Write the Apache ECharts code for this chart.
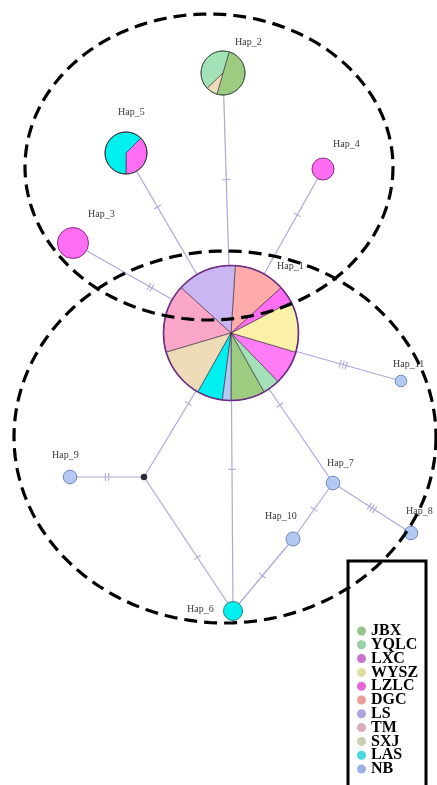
<!DOCTYPE html>
<html>
<head>
<meta charset="utf-8">
<script src="https://cdn.jsdelivr.net/npm/echarts@6/dist/echarts.min.js"></script>
<style>
  html, body { margin: 0; padding: 0; background: #fff; }
  #chart { width: 437px; height: 785px; }
</style>
</head>
<body>
<div id="chart"></div>
<script>
// ---- data ----------------------------------------------------------------
const populations = ['JBX', 'YQLC', 'LXC', 'WYSZ', 'LZLC', 'DGC', 'LS', 'TM', 'SXJ', 'LAS', 'NB'];
const haplotypes = ['Hap_1', 'Hap_2', 'Hap_3', 'Hap_4', 'Hap_5', 'Hap_6', 'Hap_7', 'Hap_8', 'Hap_9', 'Hap_10', 'Hap_11'];

// network layout coordinates of each haplotype
const hapX = [231, 223, 73, 323, 126, 233, 333, 411, 70, 293, 401];
const hapY = [333, 73, 243, 169, 153, 611, 483, 533, 477, 539, 381];

// inferred median vector
const medianX = [144];
const medianY = [477];

// individuals per population (same order as `populations`)
const hap1Counts  = [4, 2, 4, 6, 2, 6, 7, 8, 6, 3, 1];
const hap2Counts  = [6, 5, 0, 0, 0, 0, 0, 0, 1, 0, 0];
const hap3Counts  = [0, 0, 0, 0, 2, 0, 0, 0, 0, 0, 0];
const hap4Counts  = [0, 0, 0, 0, 1, 0, 0, 0, 0, 0, 0];
const hap5Counts  = [0, 0, 0, 0, 3, 0, 0, 0, 0, 5, 0];
const hap6Counts  = [0, 0, 0, 0, 0, 0, 0, 0, 0, 1, 0];
const hap7Counts  = [0, 0, 0, 0, 0, 0, 0, 0, 0, 0, 1];
const hap8Counts  = [0, 0, 0, 0, 0, 0, 0, 0, 0, 0, 1];
const hap9Counts  = [0, 0, 0, 0, 0, 0, 0, 0, 0, 0, 1];
const hap10Counts = [0, 0, 0, 0, 0, 0, 0, 0, 0, 0, 1];
const hap11Counts = [0, 0, 0, 0, 0, 0, 0, 0, 0, 0, 1];
const hapCounts = [hap1Counts, hap2Counts, hap3Counts, hap4Counts, hap5Counts, hap6Counts,
                   hap7Counts, hap8Counts, hap9Counts, hap10Counts, hap11Counts];

// network edges and number of mutational steps on each
const edgeFrom      = ['Hap_1', 'Hap_1', 'Hap_1', 'Hap_1', 'Hap_1', 'Hap_1', 'Hap_1', 'Hap_1', 'mv1',   'mv1',   'Hap_7',  'Hap_10', 'Hap_7'];
const edgeTo        = ['Hap_2', 'Hap_5', 'Hap_3', 'Hap_4', 'Hap_11','Hap_7', 'Hap_6', 'mv1',   'Hap_9', 'Hap_6', 'Hap_10', 'Hap_6',  'Hap_8'];
const edgeMutations = [1, 1, 2, 1, 3, 1, 1, 1, 2, 1, 1, 1, 3];

// ---- styling ----------------------------------------------------------------
const popColors = {
  JBX: '#9DCB80', YQLC: '#A2E2B6', LXC: '#FF7CF6', WYSZ: '#FAF0A8', LZLC: '#FF6EF2',
  DGC: '#FFABA9', LS: '#C9B6F2', TM: '#FAA6C8', SXJ: '#EEDCB8', LAS: '#00F0F0', NB: '#B3C8F2'
};
const legendColors = {
  JBX: '#85BA78', YQLC: '#86C69A', LXC: '#BE58C9', WYSZ: '#DCD68E', LZLC: '#E24CD0',
  DGC: '#E48C86', LS: '#A193D8', TM: '#D69AB8', SXJ: '#C2C4A2', LAS: '#27D2D8', NB: '#8AA3DD'
};
const nodeRadius = [67.5, 22, 15.5, 11, 21, 9.5, 6.8, 6.8, 6.8, 7, 5.8];
const nodeStroke = ['#6A2C84', '#3F5F3F', '#8A2A8A', '#8A2A8A', '#333333', '#2A8080',
                    '#6F86B8', '#6F86B8', '#6F86B8', '#6F86B8', '#6F86B8'];
const nodeStrokeWidth = [1.6, 1, 1, 1, 1, 1, 1, 1, 1, 1, 1];
// angle (deg, clockwise from 12 o'clock) where the first population's slice begins;
// slices then run counter-clockwise in population order
const nodeStartAngle = [180, 196, 180, 180, 180, 180, 180, 180, 180, 180, 180];
// label anchor (left, middle) relative to node centre
const labelDX = [46, 12, 15, 10, -8, -46, -6, -5, -18, -28, -8];
const labelDY = [-67, -31, -29, -25, -41, -2, -20, -22, -22, -23, -17];
// where along each edge the mutation hatch marks sit (0 = from node, 1 = to node)
const tickAt = [0.59, 0.70, 0.51, 0.72, 0.66, 0.48, 0.49, 0.49, 0.5, 0.6, 0.47, 0.51, 0.5];
// grouping ellipses
const ellipseCX = [209, 225];
const ellipseCY = [167, 437];
const ellipseRX = [184, 211];
const ellipseRY = [153, 186];

const EDGE_COLOR = '#ADA8DA';
const LABEL_FONT = '"Liberation Serif", "Times New Roman", serif';

function posX(name) { return name === 'mv1' ? medianX[0] : hapX[haplotypes.indexOf(name)]; }
function posY(name) { return name === 'mv1' ? medianY[0] : hapY[haplotypes.indexOf(name)]; }
const rad = d => d * Math.PI / 180;

// ---- series -------------------------------------------------------------------
const edgeSeries = {
  type: 'custom',
  name: 'edges',
  z: 1,
  silent: true,
  data: edgeFrom.map((f, i) => [posX(f), posY(f), posX(edgeTo[i]), posY(edgeTo[i]), edgeMutations[i], i]),
  encode: { x: [0, 2], y: [1, 3] },
  renderItem(params, api) {
    const p1 = api.coord([api.value(0), api.value(1)]);
    const p2 = api.coord([api.value(2), api.value(3)]);
    const k = api.value(4);
    const t = tickAt[api.value(5)];
    const dx = p2[0] - p1[0], dy = p2[1] - p1[1];
    const len = Math.hypot(dx, dy);
    const ux = dx / len, uy = dy / len;
    const nx = -uy, ny = ux;
    const cx = p1[0] + dx * t, cy = p1[1] + dy * t;
    const children = [{
      type: 'line',
      shape: { x1: p1[0], y1: p1[1], x2: p2[0], y2: p2[1] },
      style: { stroke: EDGE_COLOR, lineWidth: 1.2 }
    }];
    const half = 4, gap = 3.2;
    for (let j = 0; j < k; j++) {
      const o = (j - (k - 1) / 2) * gap;
      const mx = cx + ux * o, my = cy + uy * o;
      children.push({
        type: 'line',
        shape: { x1: mx - nx * half, y1: my - ny * half, x2: mx + nx * half, y2: my + ny * half },
        style: { stroke: EDGE_COLOR, lineWidth: 1.1 }
      });
    }
    return { type: 'group', children };
  }
};

// one series per population: draws that population's share of every haplotype
const popSeries = populations.map((pop, pIdx) => ({
  type: 'custom',
  name: pop,
  z: 2,
  itemStyle: { color: popColors[pop] },
  data: haplotypes.map((h, i) => [hapX[i], hapY[i], i]),
  encode: { x: 0, y: 1 },
  renderItem(params, api) {
    const i = api.value(2);
    const counts = hapCounts[i];
    const c = counts[pIdx];
    if (!c) return { type: 'group', children: [] };
    const total = counts.reduce((a, b) => a + b, 0);
    const before = counts.slice(0, pIdx).reduce((a, b) => a + b, 0);
    const p = api.coord([api.value(0), api.value(1)]);
    const r = api.size([nodeRadius[i], 0])[0];
    if (c === total) {
      return { type: 'circle', shape: { cx: p[0], cy: p[1], r }, style: { fill: popColors[pop] } };
    }
    const end = nodeStartAngle[i] - before / total * 360;
    const start = end - c / total * 360;
    return {
      type: 'sector',
      shape: { cx: p[0], cy: p[1], r0: 0, r, startAngle: rad(start - 90), endAngle: rad(end - 90), clockwise: true },
      style: { fill: popColors[pop], stroke: '#3C2A44', lineWidth: 0.6 }
    };
  }
}));

const outlineSeries = {
  type: 'custom',
  name: 'outline',
  z: 3,
  silent: true,
  data: haplotypes.map((h, i) => [hapX[i], hapY[i], i]),
  encode: { x: 0, y: 1 },
  renderItem(params, api) {
    const i = api.value(2);
    const p = api.coord([api.value(0), api.value(1)]);
    const r = api.size([nodeRadius[i], 0])[0];
    return {
      type: 'circle',
      shape: { cx: p[0], cy: p[1], r },
      style: { fill: 'none', stroke: nodeStroke[i], lineWidth: nodeStrokeWidth[i] }
    };
  }
};

const medianSeries = {
  type: 'scatter',
  name: 'median',
  z: 3,
  silent: true,
  symbol: 'circle',
  symbolSize: 6.5,
  itemStyle: { color: '#000' },
  data: medianX.map((x, i) => [x, medianY[i]])
};

const labelSeries = {
  type: 'custom',
  name: 'labels',
  z: 4,
  silent: true,
  data: haplotypes.map((h, i) => [hapX[i], hapY[i], i]),
  encode: { x: 0, y: 1 },
  renderItem(params, api) {
    const i = api.value(2);
    const p = api.coord([api.value(0), api.value(1)]);
    return {
      type: 'text',
      x: p[0] + labelDX[i],
      y: p[1] + labelDY[i],
      style: {
        text: haplotypes[i], fill: '#3A3A3A', fontSize: 10, fontFamily: LABEL_FONT,
        align: 'left', verticalAlign: 'middle'
      }
    };
  }
};

const ellipseSeries = {
  type: 'custom',
  name: 'groups',
  z: 6,
  silent: true,
  clip: false,
  data: ellipseCX.map((cx, i) => [cx, ellipseCY[i], ellipseRX[i], ellipseRY[i]]),
  encode: { x: 0, y: 1 },
  renderItem(params, api) {
    const cx = api.value(0), cy = api.value(1), rx = api.value(2), ry = api.value(3);
    const pts = [];
    for (let a = 0; a <= 360; a += 2) {
      pts.push(api.coord([cx + rx * Math.cos(rad(a)), cy + ry * Math.sin(rad(a))]));
    }
    return {
      type: 'polyline',
      shape: { points: pts },
      style: { fill: null, stroke: '#000', lineWidth: 3.2, lineDash: [13, 7] }
    };
  }
};

const chart = echarts.init(document.getElementById('chart'), null, { renderer: 'canvas' });
chart.setOption({
  backgroundColor: '#fff',
  animation: false,
  grid: { left: 0, right: 0, top: 0, bottom: 0 },
  xAxis: { type: 'value', min: 0, max: 437, show: false },
  yAxis: { type: 'value', min: 0, max: 785, inverse: true, show: false },
  legend: {
    orient: 'vertical',
    left: 357,
    top: 623,
    height: 300,
    padding: 0,
    itemWidth: 9,
    itemHeight: 9,
    itemGap: -2.2,
    icon: 'circle',
    selectedMode: false,
    z: 7,
    textStyle: {
      fontFamily: LABEL_FONT, fontWeight: 'bold', fontSize: 16, color: '#000', lineHeight: 13.8
    },
    data: populations.map(p => ({ name: p, itemStyle: { color: legendColors[p], opacity: 0.85 } }))
  },
  graphic: [{
    type: 'rect',
    z: 7,
    silent: true,
    shape: { x: 348, y: 561, width: 78, height: 260 },
    style: { fill: null, stroke: '#000', lineWidth: 3 }
  }],
  series: [edgeSeries, ...popSeries, outlineSeries, medianSeries, labelSeries, ellipseSeries]
});
</script>
</body>
</html>
